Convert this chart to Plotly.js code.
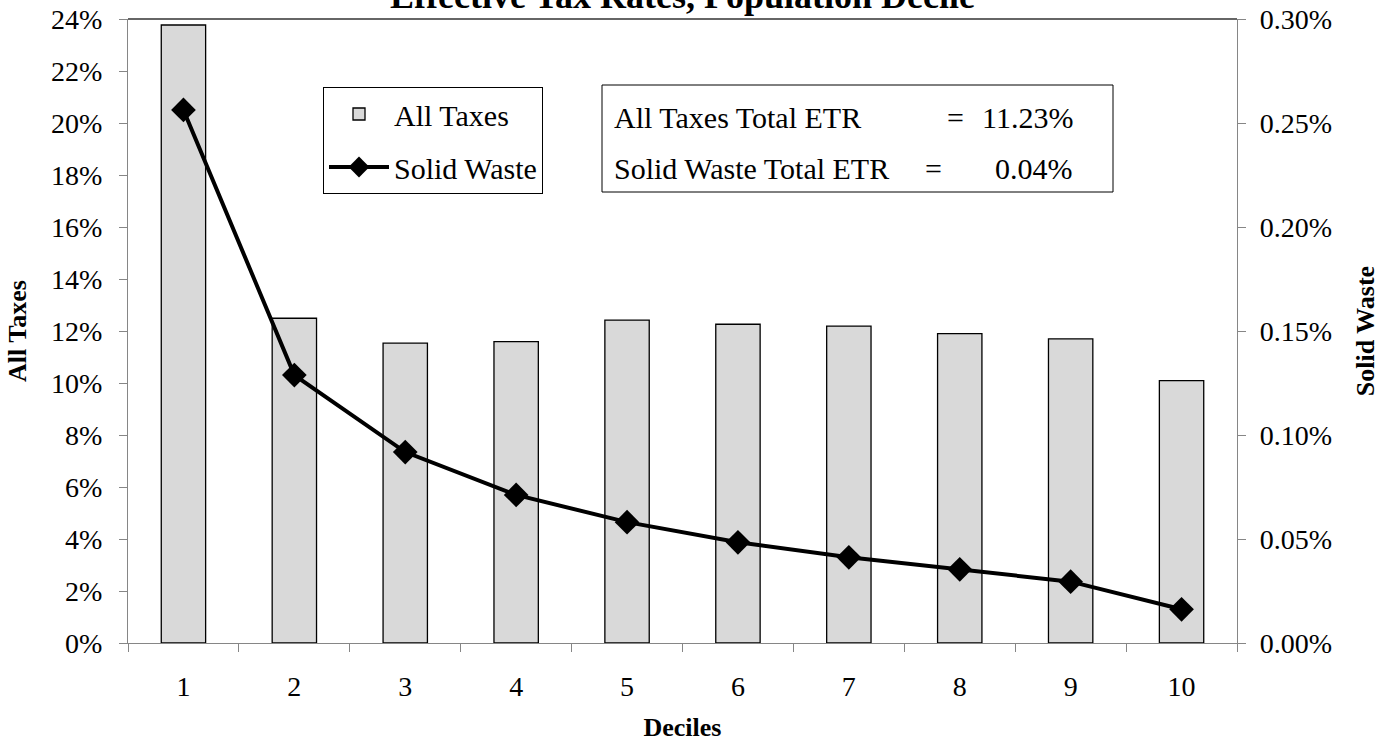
<!DOCTYPE html>
<html>
<head>
<meta charset="utf-8">
<script src="https://cdn.plot.ly/plotly-3.0.1.min.js"></script>
<style>
html,body{margin:0;padding:0;background:#fff;}
#chart{width:1396px;height:750px;}
</style>
</head>
<body>
<div id="chart"></div>
<script>
const deciles = ['1','2','3','4','5','6','7','8','9','10'];
const allTaxes = [23.77, 12.49, 11.53, 11.59, 12.42, 12.26, 12.19, 11.90, 11.70, 10.09];
const solidWaste = [0.2563, 0.1288, 0.0918, 0.0712, 0.0581, 0.0484, 0.0412, 0.0354, 0.0295, 0.0162];
const leftTicks = [0, 2, 4, 6, 8, 10, 12, 14, 16, 18, 20, 22, 24];
const rightTicks = [0, 0.05, 0.10, 0.15, 0.20, 0.25, 0.30];
const titleText = 'Effective Tax Rates, Population Decile';
const boxLines = [
  {label: 'All Taxes Total ETR', value: '11.23%'},
  {label: 'Solid Waste Total ETR', value: '0.04%'}
];

const FONT = '"Liberation Serif", "Times New Roman", Times, serif';
const W = 1396, H = 750;
const L = 128, R = 1237, T = 19, B = 643;
const pw = R - L, ph = B - T;
const px = v => (v - L) / pw;
const py = v => (B - v) / ph;

const traces = [
  {
    type: 'bar', name: 'All Taxes', x: deciles, y: allTaxes,
    marker: {color: '#d9d9d9', line: {color: '#000', width: 1.3}},
    legendgroup: 'a', hoverinfo: 'x+y'
  },
  {
    type: 'scatter', mode: 'lines+markers', name: 'Solid Waste', x: deciles, y: solidWaste,
    yaxis: 'y2',
    line: {color: '#000', width: 4},
    marker: {symbol: 'diamond', size: 19, color: '#000'},
    legendgroup: 'b'
  }
];

const annotations = [];
const eqX = [955, 933];
const lineY = [117, 168];
boxLines.forEach((ln, i) => {
  annotations.push({xref:'paper', yref:'paper', x: px(612), y: py(lineY[i]), xanchor:'left', yanchor:'middle',
    text: ln.label, showarrow:false, font:{family:FONT, size:30, color:'#000'}});
  annotations.push({xref:'paper', yref:'paper', x: px(eqX[i]), y: py(lineY[i]), xanchor:'center', yanchor:'middle',
    text: '=', showarrow:false, font:{family:FONT, size:30, color:'#000'}});
  annotations.push({xref:'paper', yref:'paper', x: px(1075), y: py(lineY[i]), xanchor:'right', yanchor:'middle',
    text: ln.value, showarrow:false, font:{family:FONT, size:30, color:'#000'}});
});

const layout = {
  width: W, height: H,
  margin: {l: L, r: W - R, t: T, b: H - B, pad: 0},
  paper_bgcolor: '#fff', plot_bgcolor: '#fff',
  font: {family: FONT, size: 28, color: '#000'},
  title: {
    text: '<b>' + titleText + '</b>',
    font: {family: FONT, size: 36, color: '#000'},
    xref: 'paper', x: 0.5, xanchor: 'center',
    yref: 'container', y: 1 - 8 / H, yanchor: 'bottom'
  },
  bargap: 0.6,
  showlegend: true,
  legend: {
    x: px(323), y: py(87), xanchor: 'left', yanchor: 'top',
    bgcolor: '#fff', bordercolor: '#000', borderwidth: 1,
    font: {family: FONT, size: 30, color: '#000'},
    traceorder: 'grouped', tracegroupgap: 11, itemwidth: 60
  },
  xaxis: {
    type: 'category', tickson: 'boundaries', range: [-0.5, 9.5],
    showline: true, linecolor: '#868686', linewidth: 1.3,
    ticks: 'outside', ticklen: 8, tickcolor: '#868686', tickwidth: 1.3,
    showgrid: false, zeroline: false,
    tickfont: {family: FONT, size: 28, color: '#000'},
    ticklabelstandoff: 18,
    title: {text: '<b>Deciles</b>', font: {family: FONT, size: 26, color: '#000'}, standoff: 17}
  },
  yaxis: {
    range: [0, 24], tickvals: leftTicks, ticktext: leftTicks.map(v => v + '%'),
    showline: true, linecolor: '#868686', linewidth: 1.3,
    ticks: 'outside', ticklen: 8, tickcolor: '#868686', tickwidth: 1.3,
    showgrid: false, zeroline: false,
    tickfont: {family: FONT, size: 28, color: '#000'},
    ticklabelstandoff: 11,
    title: {text: '<b>All Taxes</b>', font: {family: FONT, size: 26, color: '#000'}, standoff: 16}
  },
  yaxis2: {
    overlaying: 'y', side: 'right',
    range: [0, 0.30], tickvals: rightTicks, ticktext: rightTicks.map(v => v.toFixed(2) + '%'),
    showline: true, linecolor: '#868686', linewidth: 1.3,
    ticks: 'outside', ticklen: 8, tickcolor: '#868686', tickwidth: 1.3,
    showgrid: false, zeroline: false,
    tickfont: {family: FONT, size: 28, color: '#000'},
    ticklabelstandoff: 8,
    title: {text: '<b>Solid Waste</b>', font: {family: FONT, size: 26, color: '#000'}, standoff: 24}
  },
  shapes: [
    {type:'line', xref:'paper', yref:'paper', x0:0, x1:1, y0:1, y1:1, line:{color:'#333', width:1.7}, layer:'above'},
    {type:'rect', xref:'paper', yref:'paper', x0: px(602), x1: px(1113), y0: py(85), y1: py(192),
     line:{color:'#000', width:1}, fillcolor:'#fff', layer:'above'}
  ],
  annotations: annotations
};

Plotly.newPlot('chart', traces, layout, {displayModeBar: false, responsive: false});
</script>
</body>
</html>
